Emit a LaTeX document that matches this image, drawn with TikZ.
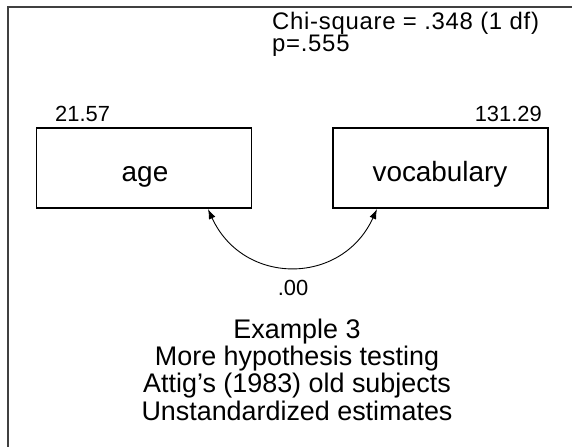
\documentclass[tikz,border=0pt]{standalone}
\usepackage{fontspec}
\setmainfont{Liberation Sans}
\newfontfamily\chifont[LetterSpace=3]{Liberation Sans}
\usetikzlibrary{arrows.meta}
\begin{document}
\begin{tikzpicture}[x=1bp,y=-1bp,
  varbox/.style={draw=black,line width=1.2bp,minimum width=215bp,minimum height=80bp,inner sep=0pt},
  varlabel/.style={inner sep=0pt,anchor=base,font=\fontsize{28}{30}\selectfont},
  small/.style={inner sep=0pt,font=\fontsize{22}{23}\selectfont},
  big/.style={inner sep=0pt,align=center,font=\fontsize{27}{27.3}\selectfont},
  cov/.style={line width=0.9bp,{Latex[length=10bp,width=7bp]}-{Latex[length=10bp,width=7bp]}}]
\useasboundingbox (0,0) rectangle (572,447);
\draw[line width=1.4bp,black!75] (8,447) -- (8,7) -- (572,7);
\node[inner sep=0pt,anchor=base west,align=left,font=\chifont\fontsize{24}{23}\selectfont] (chi) at (272,52) {Chi-square = .348 (1 df)\\p=.555};
\node[small,anchor=base west] (m1) at (55,121.5) {21.57};
\node[small,anchor=base east] (m2) at (542,121.5) {131.29};
\node[varbox] (age) at (144,168) {};
\node[varbox] (voc) at (440.5,168) {};
\node[varlabel] (agel) at (145,181.5) {age};
\node[varlabel] (vocl) at (440,181.5) {vocabulary};
\coordinate (a1) at (208,209);
\coordinate (a2) at (377,209);
\draw[cov] (a1) .. controls (243,286) and (342,286) .. (a2);
\node[small,anchor=base] (c) at (293,295) {.00};
\node[big,anchor=base] (title) at (297,338.3) {Example 3};
\node[big,anchor=base] (t2) at (297,365.6) {More hypothesis testing};
\node[big,anchor=base] (t3) at (297,392.9) {Attig's (1983) old subjects};
\node[big,anchor=base] (t4) at (297,420.2) {Unstandardized estimates};
\end{tikzpicture}
\end{document}
